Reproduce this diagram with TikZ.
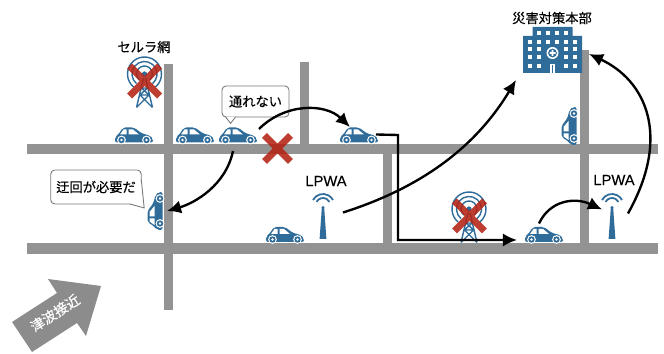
\documentclass[tikz,border=0pt]{standalone}
\usepackage{fontspec}
\setmainfont{Noto Sans CJK JP}[FakeBold=0.35]
\newfontfamily\latinfont{Liberation Sans}[FakeBold=0.3]
\usepackage{xcolor}
\usepackage{tikz}
\usetikzlibrary{calc,arrows.meta,positioning}
\definecolor{IconBlue}{RGB}{47, 108, 153}
\definecolor{RoadGray}{RGB}{147, 147, 147}
\definecolor{NoGoRed}{RGB}{180, 35, 20}
\definecolor{BubbleEdge}{RGB}{120, 120, 120}

\tikzset{
  hit/.style={inner sep=0pt, outer sep=0pt, transform shape},
  pics/car/.style={code={
    \node[hit, minimum width=0.76cm, minimum height=0.34cm] (-box) at (0,-8.5) {};
    \fill[IconBlue, rounded corners=1.2pt] (-19,-1.5) -- (-19,-7) -- (-16,-9) -- (-11,-16.5) -- (0,-16.5) -- (8,-10.5) -- (16,-8.5) -- (19,-5) -- (19,-1.5) -- cycle;
    \fill[white] (-14,-9.5) -- (-10.5,-14.5) -- (-7.5,-14.5) -- (-7.5,-9.5) -- cycle;
    \fill[white] (-5.5,-9.5) -- (-5.5,-14.5) -- (-1,-14.5) -- (5,-9.5) -- cycle;
    \foreach \wx in {-12.5,12.5} {
      \fill[white] (\wx,-4) circle (4.4);
      \fill[IconBlue] (\wx,-4) circle (3.2);
      \fill[white] (\wx,-4) circle (1.4);
    }
  }},
  pics/radiotower/.style={code={
    \node[hit, minimum width=0.7cm, minimum height=1cm] (-box) at (0,8.5) {};
    \foreach \rr in {8,12.5,17} {
      \draw[IconBlue, line width=0.8pt] (130:\rr) arc (130:410:\rr);
    }
    \fill[IconBlue] (0,0) circle (2.6);
    \draw[IconBlue, line width=0.8pt] (-1,4) -- (-8,33.5) (1,4) -- (8,33.5)
      (-3,14) -- (3,14) (-4.5,21) -- (4.5,21) (-3,14) -- (4.5,21) (3,14) -- (-4.5,21)
      (-4.5,21) -- (8,33.5) (4.5,21) -- (-8,33.5);
  }},
  pics/lpwamast/.style={code={
    \node[hit, minimum width=0.4cm, minimum height=0.9cm] (-box) at (0,-22.5) {};
    \fill[IconBlue] (-1.2,-31) -- (1.2,-31) -- (3.4,0) -- (-3.4,0) -- cycle;
    \fill[IconBlue] (0,-31.5) circle (1.6);
    \foreach \rr in {7.3,11.3} {
      \draw[IconBlue, line width=1pt] (0,-33.7) ++(208:\rr) arc (208:332:\rr);
    }
  }},
  pics/hospital/.style={code={
    \node[hit, minimum width=1.18cm, minimum height=0.92cm] (-box) at (0,0) {};
    \fill[IconBlue] (-20,-23) rectangle (20,-13) (-29.5,-14) rectangle (29.5,23);
    \foreach \wx in {-13.5,-4.5,4.5,13.5} {
      \fill[white] (\wx-2,-19) rectangle (\wx+2,-15);
    }
    \foreach \wx in {-22.5,-13.5,-4.5,4.5,13.5,22.5} {
      \fill[white] (\wx-2,-10.3) rectangle (\wx+2,-6.3);
    }
    \foreach \wy in {-0.5,7.5,15.7} {
      \foreach \wx in {-22.5,-13.5,13.5,22.5} {
        \fill[white] (\wx-2,\wy-2) rectangle (\wx+2,\wy+2);
      }
    }
    \fill[white] (0,3) circle (6);
    \fill[IconBlue] (0,3) circle (4.4);
    \fill[white] (-3,2.2) rectangle (3,3.8) (-0.8,0) rectangle (0.8,6);
    \fill[white] (-2.5,14) rectangle (2.5,23);
    \fill[IconBlue] (-0.7,15) rectangle (0.7,23);
  }},
  pics/nogo/.style={code={
    \draw[NoGoRed, draw opacity=0.88, line width=4pt] (-#1,-#1) -- (#1,#1) (-#1,#1) -- (#1,-#1);
  }}
}

\begin{document}
\begin{tikzpicture}[x=0.02cm, y=-0.02cm, >=Latex,
  font=\fontsize{7.55}{9}\selectfont,
  road/.style={fill=RoadGray},
  bubble/.style={draw=BubbleEdge, fill=white, line width=0.5pt, rounded corners=2.3pt, inner sep=0pt},
  bubbletip/.style={draw=BubbleEdge, fill=white, line width=0.5pt},
  lbl/.style={inner sep=0pt},
  sig/.style={-{Latex[length=8pt,width=7.5pt]}, line width=1.35pt}]
  \useasboundingbox (0,0) rectangle (664,354);

  \fill[road] (27,144) rectangle (658,154);
  \fill[road] (27,243) rectangle (658,254);
  \fill[road] (164,64) rectangle (173,310);
  \fill[road] (300,62) rectangle (309,144);
  \fill[road] (383,154) rectangle (392,243);
  \fill[road] (580,50) rectangle (589,243);

  \fill[RoadGray!95!black] (12,322) -- (57,293) -- (48,279) -- (101,286) -- (86,336) -- (77,323) -- (32,352) -- cycle;
  \node[lbl, text=white, rotate=33, font=\fontsize{7.9}{9}\selectfont] (tsunami) at (55,313) {津波接近};

  \pic (carA) at (134,144) {car};
  \pic (carB) at (195,144) {car};
  \pic (carC) at (238,144) {car};
  \pic (carD) at (359,144) {car};
  \pic (carE) at (285,243.5) {car};
  \pic (carF) at (544,243.5) {car};
  \pic[rotate=90] (carG) at (164,211) {car};
  \pic[rotate=90] (carH) at (578,126) {car};

  \pic (towerA) at (144.5,74) {radiotower};
  \pic (towerB) at (469,209) {radiotower};
  \pic (mastA) at (323,239) {lpwamast};
  \pic (mastB) at (612,239) {lpwamast};
  \pic (hq) at (552.5,50) {hospital};

  \node[lbl] (cellLabel) at (144,47) {セルラ網};
  \node[lbl] (hqLabel) at (552,18) {災害対策本部};
  \node[lbl, font=\fontsize{8.4}{10}\latinfont] (lpwaLabelA) at (326,181) {LPWA};
  \node[lbl, font=\fontsize{8.4}{10}\latinfont] (lpwaLabelB) at (614,180) {LPWA};

  \node[bubble, minimum width=1.34cm, minimum height=0.62cm] (msgBlocked) at (255.5,101.5) {通れない};
  \filldraw[bubbletip] ([shift={(4,-0.5)}]msgBlocked.south west) -- ([shift={(9,6)}]msgBlocked.south west) -- ([shift={(14,-0.5)}]msgBlocked.south west);
  \node[bubble, minimum width=1.81cm, minimum height=0.68cm] (msgDetour) at (96,187) {迂回が必要だ};
  \filldraw[bubbletip] ([shift={(-12,-0.5)}]msgDetour.south east) -- ([shift={(2.5,3.5)}]msgDetour.south east) -- ([shift={(-0.4,-25)}]msgDetour.south east);

  \pic at (144.7,81) {nogo=15};
  \pic at (469.5,216) {nogo=15};
  \pic at (277.5,148.5) {nogo=13};

  \coordinate (turnA) at (398,135);
  \coordinate (turnB) at (398,240);
  \draw[sig] ([shift={(2,2)}]carC-box.north east) .. controls (285,103) and (325,103) .. ([shift={(-9,0)}]carD-box.north);
  \draw[sig] ([shift={(-5,7)}]carC-box.south) .. controls (226,185) and (195,203) .. ([shift={(3,0)}]carG-box.south);
  \draw[sig] ([shift={(-2,-1)}]carD-box.east) -- (turnA) -- (turnB) -- ([shift={(-8,5)}]carF-box.west);
  \draw[sig] ([shift={(10,-4)}]mastA-box.east) .. controls (430,185) and (480,140) .. ([shift={(-7,7)}]hq-box.south west);
  \draw[sig] ([shift={(-5,-3)}]carF-box.north) .. controls (550,200) and (575,197) .. ([shift={(0,-7)}]mastB-box.west);
  \draw[sig] ([shift={(6,-3)}]mastB-box.east) .. controls (672,135) and (645,80) .. ([shift={(7,-19)}]hq-box.south east);
\end{tikzpicture}
\end{document}
